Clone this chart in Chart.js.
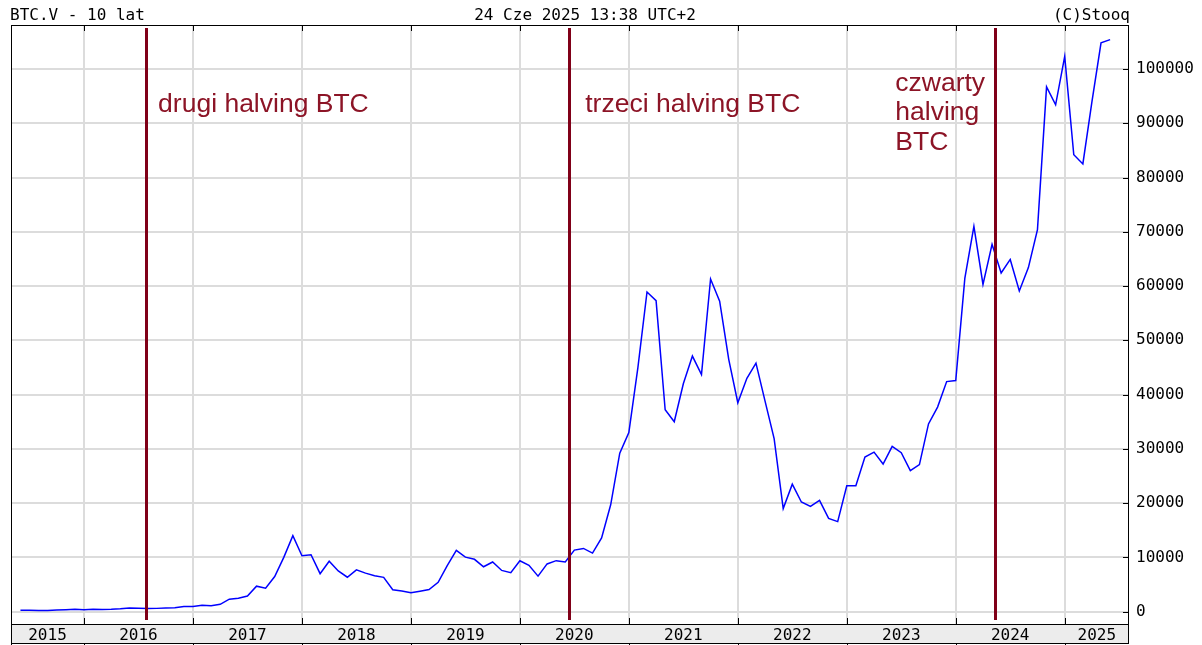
<!DOCTYPE html>
<html>
<head>
<meta charset="utf-8">
<script src="https://cdn.jsdelivr.net/npm/chart.js@4"></script>
<style>
  html, body { margin: 0; padding: 0; background: #fff; }
  #wrap { width: 1202px; height: 645px; position: relative; }
</style>
</head>
<body>
<div id="wrap"><canvas id="btcChart"></canvas></div>
<script>
// BTC.V monthly closes, first point = June 2015
const firstYear = 2015;
const firstMonth = 6;
const closes = [
  263, 284, 230, 236, 314, 377, 430,                                              // 2015
  369, 437, 416, 448, 531, 673, 624, 575, 609, 700, 742, 964,                     // 2016
  970, 1190, 1080, 1348, 2300, 2480, 2875, 4700, 4340, 6470, 10000, 14000,        // 2017
  10300, 10500, 7000, 9300, 7500, 6350, 7700, 7100, 6630, 6320, 4050, 3800,       // 2018
  3480, 3780, 4080, 5400, 8500, 11300, 10050, 9650, 8280, 9150, 7600, 7200,       // 2019
  9380, 8550, 6550, 8800, 9400, 9150, 11350, 11650, 10800, 13600, 19700, 29200,   // 2020
  33000, 45000, 58900, 57300, 37200, 35000, 42000, 47100, 43700, 61300, 57200, 46500, // 2021
  38500, 43000, 45800, 38800, 31900, 19000, 23500, 20200, 19400, 20500, 17200, 16600, // 2022
  23200, 23200, 28500, 29400, 27200, 30450, 29300, 26000, 27100, 34600, 37700, 42400, // 2023
  42600, 61400, 71000, 60300, 67700, 62400, 64900, 59100, 63400, 70400, 96700, 93400, // 2024
  102300, 84200, 82500, 94000, 104800, 105400                                     // 2025
];

const yearLabels = ['2015', '2016', '2017', '2018', '2019', '2020', '2021', '2022', '2023', '2024', '2025'];
const yTicks = [0, 10000, 20000, 30000, 40000, 50000, 60000, 70000, 80000, 90000, 100000];

// halvings (x as fractional year, where the lines sit on the picture)
const halvingX = [2016.57, 2020.45, 2024.36];
const halvingText = [
  ['drugi halving BTC'],
  ['trzeci halving BTC'],
  ['czwarty', 'halving', 'BTC']
];

const titleLeft = 'BTC.V - 10 lat';
const titleCenter = '24 Cze 2025 13:38 UTC+2';
const titleRight = '(C)Stooq';

const xMin = 2015.33;
const xMax = 2025.59;
const yMin = -2270;
const yMax = 108100;

const mono = 'DejaVu Sans Mono';
const red = '#800018';
const gridColor = '#dcdcdc';

const points = closes.map((v, i) => {
  const m = firstMonth - 1 + i;
  return { x: firstYear + Math.floor(m / 12) + (m % 12) / 12, y: v };
});

const gridYears = yearLabels.map(Number).filter(y => y > xMin && y < xMax);
const labelPos = yearLabels.map(Number).map(y => (Math.max(xMin, y) + Math.min(xMax, y + 1)) / 2);

const decorPlugin = {
  id: 'decor',
  beforeDraw(chart) {
    const ctx = chart.ctx;
    const a = chart.chartArea;
    ctx.save();
    ctx.fillStyle = '#fff';
    ctx.fillRect(0, 0, chart.width, chart.height);
    // grey year strip
    ctx.fillStyle = '#ececec';
    ctx.fillRect(a.left, a.bottom, a.right - a.left, 19);
    ctx.restore();
  },
  afterDraw(chart) {
    const ctx = chart.ctx;
    const a = chart.chartArea;
    const xs = chart.scales.x;
    const ys = chart.scales.y;
    ctx.save();

    // halving lines
    ctx.strokeStyle = red;
    ctx.lineWidth = 3;
    halvingX.forEach(v => {
      const px = Math.round(xs.getPixelForValue(v)) + 0.5;
      ctx.beginPath();
      ctx.moveTo(px, a.top + 3);
      ctx.lineTo(px, a.bottom - 4);
      ctx.stroke();
    });

    // halving captions
    ctx.fillStyle = '#8c1426';
    ctx.font = '26.5px "Liberation Sans", Arial, sans-serif';
    ctx.textBaseline = 'middle';
    ctx.textAlign = 'left';
    const capX = [2016.68, 2020.6, 2023.445];
    const capY = [93400, 93400, 97300];
    halvingText.forEach((lines, i) => {
      lines.forEach((t, j) => {
        const py = ys.getPixelForValue(capY[i]) + j * 29.5;
        ctx.fillText(t, xs.getPixelForValue(capX[i]), py);
      });
    });

    // frame
    ctx.strokeStyle = '#000';
    ctx.lineWidth = 1;
    ctx.strokeRect(a.left + 0.5, a.top + 0.5, a.right - a.left - 1, a.bottom - a.top);
    ctx.strokeRect(a.left + 0.5, a.bottom + 0.5, a.right - a.left - 1, 19);
    ctx.beginPath();
    ctx.moveTo(a.left + 0.5, a.bottom + 19);
    ctx.lineTo(a.left + 0.5, chart.height);
    ctx.stroke();

    // inward ticks
    ctx.beginPath();
    gridYears.forEach(v => {
      const px = Math.round(xs.getPixelForValue(v)) + 0.5;
      ctx.moveTo(px, a.top);
      ctx.lineTo(px, a.top + 6);
      ctx.moveTo(px, a.bottom);
      ctx.lineTo(px, a.bottom - 6);
      ctx.moveTo(px, a.bottom + 19);
      ctx.lineTo(px, chart.height);
    });
    yTicks.forEach(v => {
      const py = Math.round(ys.getPixelForValue(v)) + 0.5;
      ctx.moveTo(a.right, py);
      ctx.lineTo(a.right - 6, py);
    });
    ctx.stroke();

    // header texts
    ctx.fillStyle = '#000';
    ctx.font = '16px "' + mono + '"';
    ctx.textBaseline = 'alphabetic';
    ctx.textAlign = 'left';
    ctx.fillText(titleLeft, 10, 20);
    ctx.textAlign = 'center';
    ctx.fillText(titleCenter, 585, 20);
    ctx.textAlign = 'right';
    ctx.fillText(titleRight, a.right + 1, 20);
    ctx.restore();
  }
};

new Chart(document.getElementById('btcChart'), {
  type: 'line',
  data: {
    datasets: [{
      data: points,
      borderColor: '#0000ff',
      borderWidth: 1.5,
      pointRadius: 0,
      tension: 0,
      fill: false
    }]
  },
  options: {
    responsive: true,
    maintainAspectRatio: false,
    animation: false,
    events: [],
    layout: { padding: { left: 11, top: 25, right: 0, bottom: 0 } },
    plugins: {
      legend: { display: false },
      tooltip: { enabled: false }
    },
    scales: {
      x: {
        type: 'linear',
        position: 'bottom',
        min: xMin,
        max: xMax,
        afterBuildTicks: s => { s.ticks = gridYears.map(v => ({ value: v })); },
        ticks: { display: false },
        grid: { color: gridColor, lineWidth: 2, drawTicks: false },
        border: { display: false },
        afterFit: s => { s.height = 0; }
      },
      xl: {
        type: 'linear',
        position: 'bottom',
        min: xMin,
        max: xMax,
        afterBuildTicks: s => { s.ticks = labelPos.map(v => ({ value: v })); },
        ticks: {
          autoSkip: false,
          maxRotation: 0,
          padding: -6,
          color: '#000',
          font: { family: mono, size: 16 },
          callback: (v, i) => yearLabels[i]
        },
        grid: { display: false },
        border: { display: false },
        afterFit: s => { s.height = 21; }
      },
      y: {
        position: 'right',
        min: yMin,
        max: yMax,
        afterBuildTicks: s => { s.ticks = yTicks.map(v => ({ value: v })); },
        ticks: {
          padding: 7,
          color: '#000',
          font: { family: mono, size: 16 },
          callback: v => String(v)
        },
        grid: { color: gridColor, lineWidth: 2, drawTicks: false },
        border: { display: false },
        afterFit: s => { s.width = 73; }
      }
    }
  },
  plugins: [decorPlugin]
});
</script>
</body>
</html>
